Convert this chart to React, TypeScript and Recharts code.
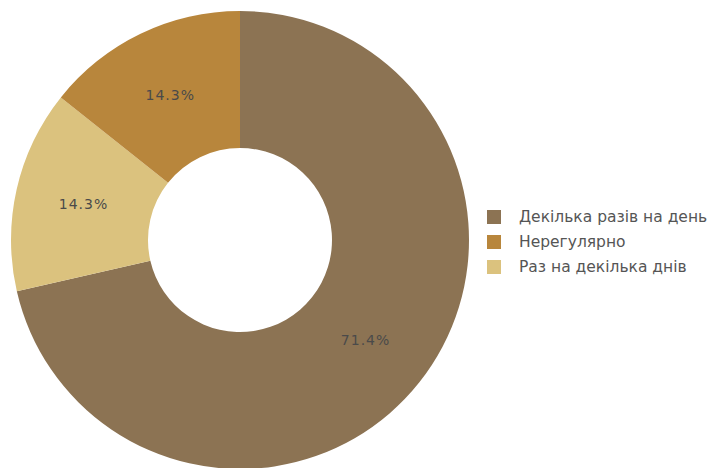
import { PieChart, Pie, Cell, Legend } from "recharts";

// slices drawn clockwise from 12 o'clock
const labels = ["Декілька разів на день", "Раз на декілька днів", "Нерегулярно"];
const values = [71.4, 14.3, 14.3];
const colors = ["#8c7353", "#dbc27e", "#b8863c"];
// legend shows its own order
const legendOrder = [0, 2, 1];

const data = labels.map((name, i) => ({ name, value: values[i] }));

const RADIAN = Math.PI / 180;

function renderLabel(props: any) {
  const { cx, cy, midAngle, innerRadius, outerRadius, value } = props;
  const r = (innerRadius + outerRadius) / 2;
  const x = cx + r * Math.cos(-midAngle * RADIAN);
  const y = cy + r * Math.sin(-midAngle * RADIAN);
  return (
    <text
      x={x}
      y={y}
      fill="#4a4a4a"
      fontSize={14}
      letterSpacing={1}
      fontFamily="DejaVu Sans, Verdana, sans-serif"
      textAnchor="middle"
      dominantBaseline="central"
    >
      {value.toFixed(1)}%
    </text>
  );
}

function LegendBox() {
  return (
    <div style={{ fontFamily: "'DejaVu Sans', sans-serif", fontSize: 15.5, color: "#555" }}>
      {legendOrder.map((i) => (
        <div key={labels[i]} style={{ display: "flex", alignItems: "center", height: 25 }}>
          <span style={{ width: 14, height: 14, background: colors[i], display: "inline-block", marginRight: 18 }} />
          <span>{labels[i]}</span>
        </div>
      ))}
    </div>
  );
}

export default function App() {
  return (
    <div style={{ position: "absolute", left: 0, top: 0, width: 710, height: 468, background: "#fff" }}>
      <PieChart width={710} height={468} margin={{ top: 0, right: 0, bottom: 0, left: 0 }}>
        <Pie
          data={data}
          dataKey="value"
          nameKey="name"
          cx={240}
          cy={240}
          innerRadius={92}
          outerRadius={229}
          startAngle={90}
          endAngle={-270}
          stroke="none"
          label={renderLabel}
          labelLine={false}
          isAnimationActive={false}
        >
          {data.map((d, i) => (
            <Cell key={d.name} fill={colors[i]} />
          ))}
        </Pie>
        <Legend
          content={<LegendBox />}
          wrapperStyle={{ position: "absolute", left: 487, top: 204, width: 223 }}
        />
      </PieChart>
    </div>
  );
}
